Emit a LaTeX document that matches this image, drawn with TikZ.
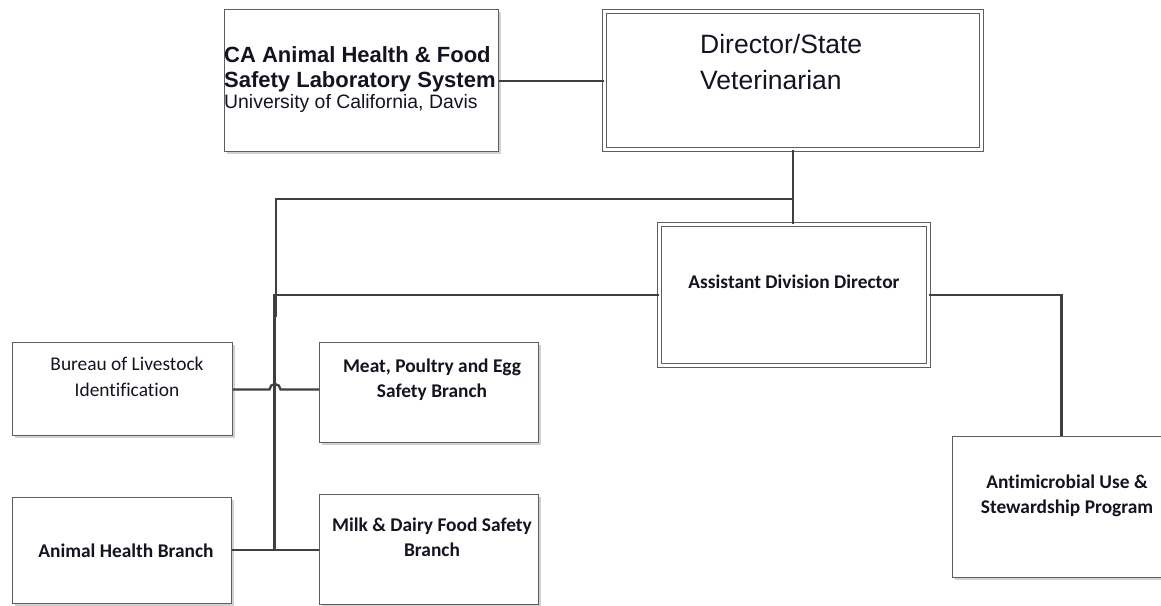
\documentclass[tikz,border=0pt]{standalone}
\usepackage{fontspec}
\setmainfont{Liberation Sans}
\newfontfamily\calib[Ligatures=NoCommon]{Carlito}
\usetikzlibrary{shadows}
\definecolor{framegray}{HTML}{5E5E5E}
\definecolor{linkgray}{HTML}{3F3F3F}
\definecolor{inkdark}{HTML}{141420}
\tikzset{
  orgbox/.style={draw=framegray, line width=1.2pt, fill=white, inner sep=0pt,
    drop shadow={shadow xshift=2.5pt, shadow yshift=-2.5pt, opacity=0.18, fill=black},
    anchor=north west},
  dblbox/.style={orgbox, double=white, double distance=2.7pt, line width=1.3pt},
  link/.style={draw=linkgray, line width=2.3pt},
  cal/.style={font=\calib\fontsize{19.4}{26}\selectfont, text=inkdark, align=center, inner sep=0pt},
  calb/.style={cal, font=\calib\bfseries\fontsize{19.4}{25}\selectfont},
}
\begin{document}
\begin{tikzpicture}[x=1pt,y=-1pt]
\clip (0,0) rectangle (1161,605);
\fill[white] (0,0) rectangle (1161,605);

% boxes
\node[orgbox, minimum width=274, minimum height=142] (lab) at (224,9) {};
\node[dblbox, minimum width=377, minimum height=138] (dir) at (604,11) {};
\node[dblbox, minimum width=269, minimum height=141] (adb) at (659,224) {};
\node[orgbox, minimum width=220, minimum height=93] (bureau) at (12,342) {};
\node[orgbox, minimum width=219, minimum height=100] (meat) at (319,342) {};
\node[orgbox, minimum width=219, minimum height=106] (ahb) at (12,497) {};
\node[orgbox, minimum width=219, minimum height=110] (milk) at (319,494) {};
\node[orgbox, minimum width=220, minimum height=141] (amu) at (952,436) {};

% texts (base anchor sits on the last line)
\node[anchor=base west, align=left, inner sep=0pt, text=inkdark,
  font=\bfseries\fontsize{22}{25}\selectfont] (labtxt) at (224,108)
  {CA Animal Health \& Food\\
   Safety Laboratory System\\[-4.5pt]
   {\mdseries\fontsize{19.4}{20}\selectfont University of California, Davis}};
\node[anchor=base west, align=left, inner sep=0pt, text=inkdark,
  font=\fontsize{26.5}{36.5}\selectfont] (dirtxt) at (700,89.5) {Director/State\\Veterinarian};
\node[calb] (adbtxt) at (794,282) {Assistant Division Director};
\node[cal] (bureautxt) at (127,377) {Bureau of Livestock\\Identification};
\node[calb] (meattxt) at (432,380) {Meat, Poultry and Egg\\Safety Branch};
\node[calb] (ahbtxt) at (126,551) {Animal Health Branch};
\node[calb] (milktxt) at (432,537) {Milk \& Dairy Food Safety\\Branch};
\node[calb] (amutxt) at (1067,496) {Antimicrobial Use \&\\Stewardship Program};

% connector junctions
\coordinate (split) at (793,199);
\coordinate (trunkA) at (276,199);
\coordinate (trunkAend) at (276,317);
\coordinate (trunkBend) at (274.5,550);
\coordinate (amudrop) at (1061.5,436);

% connectors
\draw[link] (lab.east |- dir.west) -- (dir.west);
\draw[link] (split |- dir.south) -- (split |- adb.north);
\draw[link] (split) -- (trunkA) -- (trunkAend);
\draw[link] (adb.west) -| (trunkBend);
\draw[link] (adb.east) -| (amudrop);
\draw[link] (bureau.east |- 0,389.5) -- (269.5,389.5)
  arc[start angle=180, end angle=360, radius=5.5] -- (meat.west |- 0,389.5);
\draw[link] (ahb.east |- trunkBend) -- (milk.west |- trunkBend);
\end{tikzpicture}
\end{document}
